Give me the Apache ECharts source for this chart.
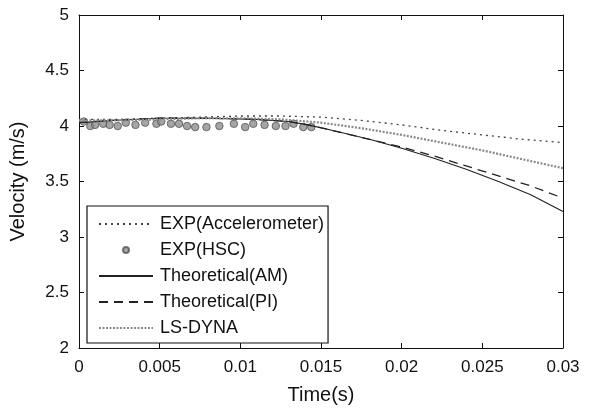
<!DOCTYPE html>
<html>
<head>
<meta charset="utf-8">
<script src="https://cdn.jsdelivr.net/npm/echarts@6/dist/echarts.min.js"></script>
<style>html,body{margin:0;padding:0;background:#fff}#c{width:590px;height:410px}</style>
</head>
<body>
<div id="c"></div>
<script>
var accT = [0, 0.0025, 0.005, 0.0075, 0.01, 0.0125, 0.015, 0.0175, 0.02, 0.0225, 0.025, 0.0275, 0.03];
var accV = [4.06, 4.06, 4.07, 4.08, 4.09, 4.09, 4.08, 4.05, 4.01, 3.96, 3.92, 3.88, 3.85];

var hscT = [0.0003, 0.0007, 0.0010, 0.0015, 0.0019, 0.0024, 0.0029, 0.0035, 0.0041, 0.0048, 0.0051, 0.0057, 0.0062, 0.0067, 0.0072, 0.0079, 0.0087, 0.0096, 0.0103, 0.0108, 0.0115, 0.0122, 0.0128, 0.0133, 0.0139, 0.0144];
var hscV = [4.04, 4.00, 4.01, 4.02, 4.01, 4.00, 4.03, 4.01, 4.03, 4.02, 4.04, 4.02, 4.02, 4.00, 3.99, 3.99, 4.00, 4.02, 3.99, 4.02, 4.01, 4.00, 4.00, 4.02, 3.99, 3.99];

var amT = [0, 0.002, 0.005, 0.008, 0.011, 0.013, 0.0142, 0.016, 0.018, 0.02, 0.022, 0.024, 0.026, 0.028, 0.03];
var amV = [4.03, 4.05, 4.07, 4.07, 4.06, 4.04, 4.01, 3.95, 3.88, 3.80, 3.71, 3.61, 3.50, 3.38, 3.23];

var piT = [0, 0.002, 0.005, 0.008, 0.011, 0.013, 0.0142, 0.016, 0.018, 0.02, 0.022, 0.024, 0.026, 0.028, 0.03];
var piV = [4.03, 4.05, 4.07, 4.07, 4.06, 4.04, 4.01, 3.95, 3.88, 3.81, 3.73, 3.64, 3.55, 3.46, 3.35];

var lsT = [0, 0.0025, 0.005, 0.0075, 0.01, 0.0125, 0.015, 0.0175, 0.02, 0.0225, 0.025, 0.0275, 0.03];
var lsV = [4.05, 4.05, 4.06, 4.07, 4.07, 4.06, 4.03, 3.98, 3.92, 3.85, 3.78, 3.70, 3.62];

var xTicks = [0, 0.005, 0.01, 0.015, 0.02, 0.025, 0.03];
var yTicks = [2, 2.5, 3, 3.5, 4, 4.5, 5];
var legendNames = ['EXP(Accelerometer)', 'EXP(HSC)', 'Theoretical(AM)', 'Theoretical(PI)', 'LS-DYNA'];

function pairs(t, v) { return t.map(function (x, i) { return [x, v[i]]; }); }

var FONT = 'Liberation Sans, Arial, sans-serif';
var chart = echarts.init(document.getElementById('c'), null, { renderer: 'canvas' });
var axisCommon = {
  axisLine: { show: true, onZero: false, lineStyle: { color: '#111', width: 1 } },
  axisTick: { show: true, inside: true, length: 5, lineStyle: { color: '#111' } },
  splitLine: { show: false }
};
chart.setOption({
  animation: false,
  backgroundColor: '#fff',
  grid: { left: 78, right: 27, top: 15, bottom: 59 },
  xAxis: [
    Object.assign({}, axisCommon, {
      type: 'value', min: xTicks[0], max: xTicks[xTicks.length - 1], interval: 0.005,
      position: 'bottom',
      name: 'Time(s)', nameLocation: 'middle', nameGap: 37,
      nameTextStyle: { fontFamily: FONT, fontSize: 20, color: '#111' },
      axisLabel: { fontFamily: FONT, fontSize: 17, color: '#111', margin: 11,
        formatter: function (v) { return String(+v.toFixed(4)); } }
    }),
    Object.assign({}, axisCommon, {
      type: 'value', min: xTicks[0], max: xTicks[xTicks.length - 1], interval: 0.005,
      position: 'top', axisLabel: { show: false }
    })
  ],
  yAxis: [
    Object.assign({}, axisCommon, {
      type: 'value', min: yTicks[0], max: yTicks[yTicks.length - 1], interval: 0.5,
      position: 'left',
      name: 'Velocity (m/s)', nameLocation: 'middle', nameGap: 51,
      nameTextStyle: { fontFamily: FONT, fontSize: 20, color: '#111' },
      axisLabel: { fontFamily: FONT, fontSize: 17, color: '#111', margin: 10 }
    }),
    Object.assign({}, axisCommon, {
      type: 'value', min: yTicks[0], max: yTicks[yTicks.length - 1], interval: 0.5,
      position: 'right', axisLabel: { show: false }
    })
  ],
  legend: {
    orient: 'vertical', left: 87, top: 206,
    backgroundColor: '#fff',
    borderColor: '#111', borderWidth: 1.2, borderRadius: 0,
    padding: [9, 4, 6, 11],
    itemWidth: 54, itemHeight: 6, itemGap: 8,
    textStyle: { fontFamily: FONT, fontSize: 18, color: '#111', lineHeight: 18, padding: [0, 0, 0, 2] },
    data: legendNames.map(function (n) {
      return n === 'EXP(HSC)' ? { name: n } : { name: n, itemStyle: { opacity: 0 } };
    })
  },
  series: [
    { name: legendNames[0], type: 'line', symbol: 'none', data: pairs(accT, accV),
      lineStyle: { color: '#444', width: 1.3, type: [2, 4] }, itemStyle: { color: '#444' } },
    { name: legendNames[1], type: 'scatter', symbol: 'circle', symbolSize: 7.5, data: pairs(hscT, hscV),
      itemStyle: { color: '#8f8f8f', borderColor: '#555', borderWidth: 1 } },
    { name: legendNames[2], type: 'line', symbol: 'none', data: pairs(amT, amV),
      lineStyle: { color: '#222', width: 1.1, type: 'solid' }, itemStyle: { color: '#222' } },
    { name: legendNames[3], type: 'line', symbol: 'none', data: pairs(piT, piV),
      lineStyle: { color: '#222', width: 1.3, type: [9, 6] }, itemStyle: { color: '#222' } },
    { name: legendNames[4], type: 'line', symbol: 'none', data: pairs(lsT, lsV),
      lineStyle: { color: '#8a8a8a', width: 2.2, type: [2, 1.5] }, itemStyle: { color: '#8a8a8a' } }
  ]
});
</script>
</body>
</html>
